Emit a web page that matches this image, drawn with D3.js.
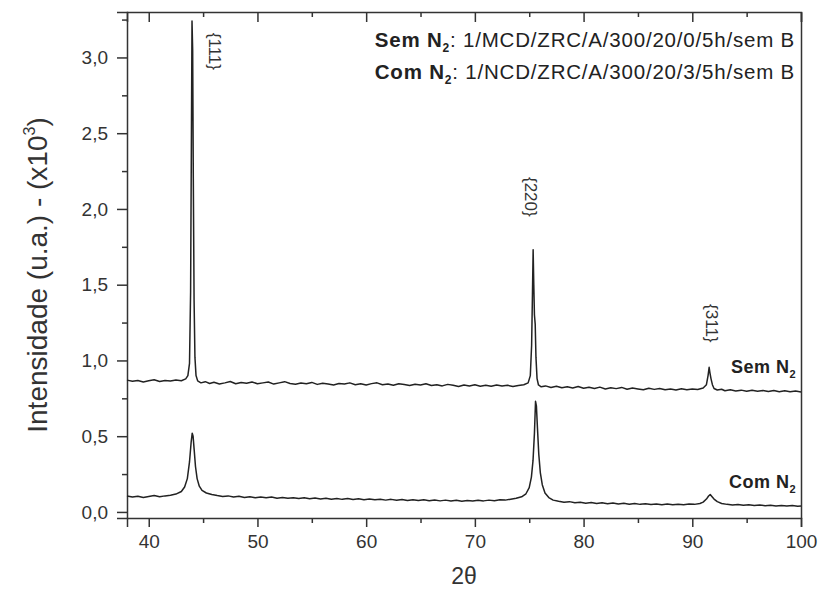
<!DOCTYPE html>
<html>
<head>
<meta charset="utf-8">
<script src="https://cdn.jsdelivr.net/npm/d3@7"></script>
<style>
  body { margin: 0; background: #fff; }
  text { font-family: "Liberation Sans", Arial, sans-serif; }
</style>
</head>
<body>
<div id="chart"></div>
<script>
// XRD patterns, [2theta, intensity x10^3]
const semN2 = [
  [38.0,.870],[38.5,.862],[39.0,.868],[39.5,.858],[40.0,.866],[40.5,.872],[41.0,.861],[41.5,.868],[42.0,.864],[42.5,.871],
  [43.0,.866],[43.4,.878],[43.6,.90],[43.75,.98],[43.85,1.45],[43.92,2.40],[43.98,3.24],[44.04,3.05],[44.10,2.20],[44.17,1.40],
  [44.25,1.02],[44.35,.90],[44.5,.865],[44.8,.852],[45.2,.860],[45.6,.848],[46.0,.856],[46.5,.845],[47.0,.852],[47.5,.861],
  [48.0,.846],[48.5,.855],[49.0,.849],[49.5,.858],[50.0,.846],[50.5,.852],[51.0,.858],[51.5,.844],[52.0,.852],[52.5,.860],
  [53.0,.848],[53.5,.843],[54.0,.851],[54.5,.846],[55.0,.855],[55.5,.842],[56.0,.850],[56.5,.845],[57.0,.838],[57.5,.848],
  [58.0,.844],[58.5,.852],[59.0,.840],[59.5,.846],[60.0,.838],[60.5,.847],[61.0,.852],[61.5,.840],[62.0,.845],[62.5,.836],
  [63.0,.846],[63.5,.841],[64.0,.834],[64.5,.843],[65.0,.838],[65.5,.846],[66.0,.835],[66.5,.840],[67.0,.832],[67.5,.842],
  [68.0,.836],[68.5,.828],[69.0,.838],[69.5,.832],[70.0,.840],[70.5,.830],[71.0,.836],[71.5,.829],[72.0,.838],[72.5,.831],
  [73.0,.836],[73.5,.828],[74.0,.835],[74.5,.840],[74.9,.852],[75.1,.90],[75.22,1.10],[75.30,1.45],[75.36,1.73],[75.42,1.50],
  [75.48,1.30],[75.55,1.24],[75.62,1.02],[75.72,.88],[75.85,.838],[76.1,.826],[76.5,.832],[77.0,.822],[77.5,.830],[78.0,.820],
  [78.5,.826],[79.0,.818],[79.5,.828],[80.0,.816],[80.5,.823],[81.0,.815],[81.5,.824],[82.0,.812],[82.5,.820],[83.0,.814],
  [83.5,.822],[84.0,.810],[84.5,.818],[85.0,.812],[85.5,.806],[86.0,.816],[86.5,.809],[87.0,.815],[87.5,.806],[88.0,.812],
  [88.5,.805],[89.0,.813],[89.5,.806],[90.0,.812],[90.5,.808],[91.0,.818],[91.3,.84],[91.45,.90],[91.55,.955],[91.62,.92],
  [91.72,.88],[91.85,.84],[92.0,.815],[92.3,.805],[92.7,.810],[93.0,.800],[93.5,.806],[94.0,.798],[94.5,.804],[95.0,.796],
  [95.5,.803],[96.0,.797],[96.5,.802],[97.0,.795],[97.5,.801],[98.0,.794],[98.5,.800],[99.0,.793],[99.5,.798],[100.0,.792]
];
const comN2 = [
  [38.0,.105],[38.5,.098],[39.0,.104],[39.5,.096],[40.0,.102],[40.5,.108],[41.0,.100],[41.5,.106],[42.0,.110],[42.5,.118],
  [43.0,.135],[43.3,.165],[43.55,.22],[43.75,.33],[43.9,.46],[44.0,.52],[44.08,.50],[44.18,.41],[44.3,.30],[44.45,.22],
  [44.65,.17],[44.9,.142],[45.3,.125],[45.8,.115],[46.3,.108],[46.8,.102],[47.3,.106],[47.8,.098],[48.3,.103],[48.8,.096],
  [49.3,.101],[49.8,.094],[50.3,.099],[50.8,.093],[51.3,.098],[51.8,.091],[52.3,.096],[52.8,.090],[53.3,.094],[53.8,.088],
  [54.3,.093],[54.8,.087],[55.3,.092],[55.8,.086],[56.3,.090],[56.8,.084],[57.3,.089],[57.8,.083],[58.3,.088],[58.8,.082],
  [59.3,.087],[59.8,.081],[60.3,.085],[60.8,.080],[61.3,.084],[61.8,.078],[62.3,.083],[62.8,.077],[63.3,.082],[63.8,.076],
  [64.3,.081],[64.8,.075],[65.3,.080],[65.8,.074],[66.3,.079],[66.8,.073],[67.3,.078],[67.8,.072],[68.3,.077],[68.8,.071],
  [69.3,.076],[69.8,.072],[70.3,.077],[70.8,.073],[71.3,.078],[71.8,.074],[72.3,.080],[72.8,.078],[73.3,.084],[73.8,.090],
  [74.3,.100],[74.7,.12],[75.0,.16],[75.2,.23],[75.35,.34],[75.48,.52],[75.58,.73],[75.66,.70],[75.76,.55],[75.88,.38],
  [76.02,.26],[76.2,.18],[76.45,.125],[76.8,.095],[77.2,.078],[77.7,.070],[78.2,.064],[78.7,.068],[79.2,.060],[79.7,.064],
  [80.2,.058],[80.7,.062],[81.2,.056],[81.7,.060],[82.2,.054],[82.7,.059],[83.2,.053],[83.7,.057],[84.2,.051],[84.7,.056],
  [85.2,.050],[85.7,.054],[86.2,.049],[86.7,.053],[87.2,.048],[87.7,.052],[88.2,.047],[88.7,.051],[89.2,.048],[89.7,.052],
  [90.2,.050],[90.7,.056],[91.0,.065],[91.3,.085],[91.5,.105],[91.65,.115],[91.8,.102],[92.0,.085],[92.3,.068],[92.7,.056],
  [93.2,.050],[93.7,.046],[94.2,.049],[94.7,.044],[95.2,.047],[95.7,.042],[96.2,.046],[96.7,.041],[97.2,.044],[97.7,.040],
  [98.2,.043],[98.7,.039],[99.2,.042],[99.7,.038],[100.0,.040]
];
const xTicks = [40, 50, 60, 70, 80, 90, 100];
const xMinor = [45, 55, 65, 75, 85, 95];
const yTicks = [0, 0.5, 1.0, 1.5, 2.0, 2.5, 3.0];
const yMinor = [0.25, 0.75, 1.25, 1.75, 2.25, 2.75, 3.25];
const peaks = [
  { label: "{111}", x: 46.05, y: 3.04 },
  { label: "{220}", x: 75.2, y: 2.08 },
  { label: "{311}", x: 91.8, y: 1.245 }
];
const legendLines = [
  { name: "Sem N", rest: ": 1/MCD/ZRC/A/300/20/0/5h/sem B" },
  { name: "Com N", rest: ": 1/NCD/ZRC/A/300/20/3/5h/sem B" }
];
const seriesLabels = [
  { name: "Sem N", x: 99.55, y: 0.92 },
  { name: "Com N", x: 99.55, y: 0.16 }
];

const W = 821, H = 589;
const margin = { top: 12, right: 20, bottom: 71, left: 127 };
const w = W - margin.left - margin.right;
const h = H - margin.top - margin.bottom;

const svg = d3.select("#chart").append("svg")
  .attr("width", W).attr("height", H);
const g = svg.append("g")
  .attr("transform", `translate(${margin.left},${margin.top})`);

const x = d3.scaleLinear().domain([38, 100]).range([0, w]);
const y = d3.scaleLinear().domain([-0.04, 3.3]).range([h, 0]);

const fmt = d => d3.format(".1f")(d).replace(".", ",");

// axes
g.append("g").attr("transform", `translate(0,${h})`)
  .call(d3.axisBottom(x).tickValues(xTicks).tickSize(9).tickPadding(8).tickFormat(d3.format("d")))
  .call(a => a.selectAll("text").attr("font-size", 19).attr("fill", "#333"));
g.append("g").attr("transform", `translate(0,${h})`)
  .call(d3.axisBottom(x).tickValues(xMinor).tickSize(5).tickFormat(""))
  .call(a => a.select(".domain").remove());
g.append("g")
  .call(d3.axisTop(x).tickValues(xTicks).tickSize(-10).tickFormat(""));
g.append("g")
  .call(d3.axisTop(x).tickValues(xMinor).tickSize(-5).tickFormat(""))
  .call(a => a.select(".domain").remove());
g.append("g")
  .call(d3.axisLeft(y).tickValues(yTicks).tickSize(10).tickPadding(9).tickFormat(fmt))
  .call(a => a.selectAll("text").attr("font-size", 19).attr("fill", "#333"));
g.append("g")
  .call(d3.axisLeft(y).tickValues(yMinor).tickSize(5).tickFormat(""))
  .call(a => a.select(".domain").remove());
g.append("g").attr("transform", `translate(${w},0)`)
  .call(d3.axisRight(y).tickValues([]).tickSizeOuter(0));

g.selectAll(".domain, .tick line").attr("stroke", "#333").attr("stroke-width", 1.5);

// curves
const line = d3.line().x(d => x(d[0])).y(d => y(d[1]));
g.append("g")
  .selectAll("path").data([semN2, comN2]).join("path")
  .attr("d", line)
  .attr("fill", "none")
  .attr("stroke", "#222")
  .attr("stroke-width", 1.5)
  .attr("stroke-linejoin", "round");

// peak labels
g.selectAll(".peak").data(peaks).join("text")
  .attr("class", "peak")
  .attr("transform", d => `translate(${x(d.x)},${y(d.y)}) rotate(90)`)
  .attr("text-anchor", "middle")
  .attr("dy", "0.35em")
  .attr("font-size", 17)
  .attr("fill", "#333")
  .text(d => d.label);

// legend text top right
const leg = g.selectAll(".leg").data(legendLines).join("text")
  .attr("class", "leg")
  .attr("x", w - 6)
  .attr("y", (d, i) => 35 + i * 32)
  .attr("text-anchor", "end")
  .attr("font-size", 20.5)
  .attr("letter-spacing", 0.8)
  .attr("fill", "#222");
leg.append("tspan").attr("font-weight", "bold").text(d => d.name);
leg.append("tspan").attr("font-weight", "bold").attr("font-size", 12).attr("dy", 5).text("2");
leg.append("tspan").attr("dy", -5).text(d => d.rest);

// series labels
const sl = g.selectAll(".sl").data(seriesLabels).join("text")
  .attr("class", "sl")
  .attr("x", d => x(d.x))
  .attr("y", d => y(d.y))
  .attr("text-anchor", "end")
  .attr("font-size", 18)
  .attr("letter-spacing", 0.5)
  .attr("font-weight", "bold")
  .attr("fill", "#222");
sl.append("tspan").text(d => d.name);
sl.append("tspan").attr("font-size", 11).attr("dy", 5).text("2");

// axis titles
svg.append("text")
  .attr("transform", `translate(47,275) rotate(-90)`)
  .attr("text-anchor", "middle")
  .attr("font-size", 28)
  .attr("fill", "#333")
  .call(t => {
    t.append("tspan").text("Intensidade (u.a.) - (x10");
    t.append("tspan").attr("font-size", 16).attr("dy", -12).text("3");
    t.append("tspan").attr("dy", 12).text(")");
  });
svg.append("text")
  .attr("x", margin.left + w / 2)
  .attr("y", 584)
  .attr("text-anchor", "middle")
  .attr("font-size", 23)
  .attr("fill", "#333")
  .text("2θ");
</script>
</body>
</html>
